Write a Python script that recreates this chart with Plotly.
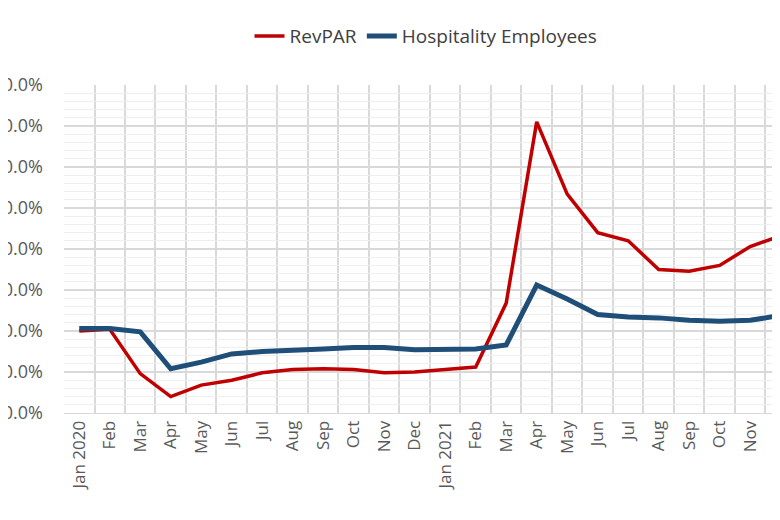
import plotly.graph_objects as go

months = ["Jan 2020","Feb","Mar","Apr","May","Jun","Jul","Aug","Sep","Oct","Nov","Dec",
          "Jan 2021","Feb","Mar","Apr","May","Jun","Jul","Aug","Sep","Oct","Nov","Dec"]
revpar = [0, 2, -52, -80, -66, -60, -51, -47, -46, -47, -51, -50,
          -47, -44, 34, 255, 167, 120, 110, 75, 73, 80, 103, 116]
employees = [3, 3, -1, -46, -38, -28, -25, -24, -22, -20, -20, -23,
             -23, -22, -17, 56, 39, 20, 17, 16, 13, 12, 13, 19]
yticks = [-100, -50, 0, 50, 100, 150, 200, 250, 300]

x = list(range(len(months)))
fig = go.Figure()
fig.add_trace(go.Scatter(x=x, y=revpar, name="RevPAR", mode="lines",
                         line=dict(color="#C00000", width=3.5)))
fig.add_trace(go.Scatter(x=x, y=employees, name="Hospitality Employees", mode="lines",
                         line=dict(color="#1F4E79", width=5)))
fig.update_layout(
    width=780, height=520, plot_bgcolor="white", paper_bgcolor="white",
    margin=dict(l=56, r=0, t=77, b=115),
    font=dict(family="Open Sans, Liberation Sans, sans-serif", color="#595959", size=17),
    legend=dict(orientation="h", x=0.5, xanchor="center", y=1.149, yanchor="middle",
                font=dict(size=19, color="#404040")),
    showlegend=True,
)
fig.update_xaxes(range=[-0.5, 23.24], tickvals=x, ticktext=months, tickangle=-90,
                 showgrid=False, zeroline=False, showline=True, linecolor="#d9d9d9",
                 ticks="", automargin=False,
                 minor=dict(tick0=0.5, dtick=1, showgrid=True, gridcolor="#d9d9d9", gridwidth=1.5))
fig.update_yaxes(range=[-100, 300], tickvals=yticks,
                 ticktext=[f"{v:.1f}%" for v in yticks], automargin=False,
                 showgrid=True, gridcolor="#d9d9d9", gridwidth=1.5, zeroline=False,
                 ticklabelstandoff=20, tickfont=dict(size=18),
                 minor=dict(dtick=10, showgrid=True, gridcolor="#eeeeee", gridwidth=1))
fig.write_html("out.html")
